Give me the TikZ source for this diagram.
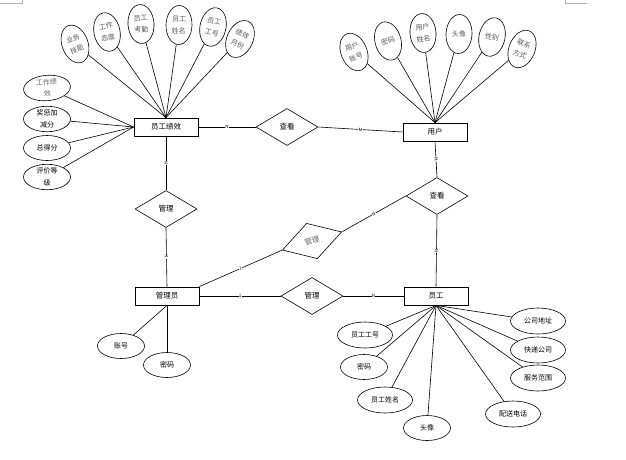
\documentclass[tikz,border=0pt]{standalone}
\usepackage{fontspec}
\setmainfont{Noto Sans CJK SC}
\usetikzlibrary{shapes.geometric, positioning}

\begin{document}
\begin{tikzpicture}[x=1pt, y=-1pt, line width=0.6pt,
  entidad/.style={draw, line width=0.8pt, minimum width=64pt, minimum height=18pt, inner sep=0pt, font=\fontsize{7.5}{9}\selectfont},
  relacion/.style={draw, diamond, minimum width=62pt, minimum height=37pt, inner sep=0pt, font=\fontsize{7.5}{9}\selectfont},
  atrib/.style={draw, ellipse, inner sep=0pt, align=center, font=\fontsize{7}{11.5}\selectfont},
  atribv/.style={atrib, minimum width=26pt, minimum height=39pt, text=black!65},
  atribh/.style={atrib, minimum width=47pt, minimum height=25pt},
  atribw/.style={atrib, minimum width=55pt, minimum height=26pt},
  etiq/.style={font=\fontsize{4.5}{5}\selectfont, fill=white, inner sep=0.3pt, sloped}]

  \useasboundingbox (0,0) rectangle (626,459);

  % Marcas de página
  \draw[black!30, line width=0.5pt] (0,3) -- (22,3) -- (22,0);
  \draw[black!30, line width=0.5pt] (565,0) -- (565,3) -- (587,3);

  % Entidades
  \node[entidad] (jx) at (166,127) {员工绩效};
  \node[entidad] (yh) at (435,132) {用户};
  \node[entidad] (gly) at (167,296) {管理员};
  \node[entidad] (yg) at (436,296) {员工};

  % Relaciones
  \node[relacion] (ck1) at (287,127) {查看};
  \node[relacion] (ck2) at (437,196) {查看};
  \node[relacion] (gl1) at (166,209) {管理};
  \node[relacion, rotate=17, text=black!60] (gl2) at (312,241) {管理};
  \node[relacion] (gl3) at (312,296) {管理};

  % Atributos de 员工绩效
  \node[atribv, rotate=20] (jx1) at (75,44) {业务\\技能};
  \node[atribv, rotate=12] (jx2) at (107,32) {工作\\态度};
  \node[atribv, rotate=4] (jx3) at (141,24) {员工\\考勤};
  \node[atribv, rotate=-2] (jx4) at (179,25) {员工\\姓名};
  \node[atribv, rotate=-12] (jx5) at (213,27) {员工\\工号};
  \node[atribv, rotate=-25] (jx6) at (240,39) {绩效\\月份};
  \node[atribh, rotate=5, text=black!60] (jx7) at (47,88) {工作绩\\效};
  \node[atribh] (jx8) at (47,119) {奖惩加\\减分};
  \node[atribh] (jx9) at (47,148) {总得分};
  \node[atribh] (jx10) at (47,177) {评价等\\级};
  \foreach \i in {1,...,6} \draw (jx\i) -- (jx.north);
  \foreach \i in {7,...,10} \draw (jx\i) -- (jx.west);

  % Atributos de 用户
  \node[atribv, rotate=22] (yh1) at (354,52) {用户\\账号};
  \node[atribv, rotate=15] (yh2) at (388,41) {密码};
  \node[atribv, rotate=5] (yh3) at (423,33) {用户\\姓名};
  \node[atribv, rotate=-3] (yh4) at (459,34) {头像};
  \node[atribv, rotate=-12] (yh5) at (492,37) {性别};
  \node[atribv, rotate=-22] (yh6) at (522,49) {联系\\方式};
  \foreach \i in {1,...,6} \draw (yh\i) -- (yh.north);

  % Atributos de 管理员
  \node[atribh] (gly1) at (121,346) {账号};
  \node[atribh] (gly2) at (167,365) {密码};
  \draw (gly1) -- (gly.south);
  \draw (gly2) -- (gly.south);

  % Atributos de 员工
  \node[atribw] (yg1) at (365,335) {员工工号};
  \node[atribh] (yg2) at (364,367) {密码};
  \node[atribw] (yg3) at (385,400) {员工姓名};
  \node[atribh] (yg4) at (427,428) {头像};
  \node[atribw] (yg5) at (513,414) {配送电话};
  \node[atribw] (yg6) at (538,378) {服务范围};
  \node[atribw] (yg7) at (538,350) {快递公司};
  \node[atribw] (yg8) at (538,321) {公司地址};
  \foreach \i in {1,...,8} \draw (yg\i) -- (yg.south);

  % Conexiones
  \draw (jx.east) -- node[etiq] {N} (ck1.west);
  \draw (ck1.east) -- node[etiq] {M} (yh.west);
  \draw (jx.south) -- node[etiq] {N} (gl1.north);
  \draw (gl1.south) -- node[etiq] {1} (gly.north);
  \draw (yh.south) -- node[etiq] {M} (ck2.north);
  \draw (ck2.south) -- node[etiq] {N} (yg.north);
  \draw (ck2.west) -- node[etiq] {N} (gl2.east);
  \draw (gl2.west) -- node[etiq] {1} (gly.north east);
  \draw (gly.east) -- node[etiq] {1} (gl3.west);
  \draw (gl3.east) -- node[etiq] {N} (yg.west);

\end{tikzpicture}
\end{document}
